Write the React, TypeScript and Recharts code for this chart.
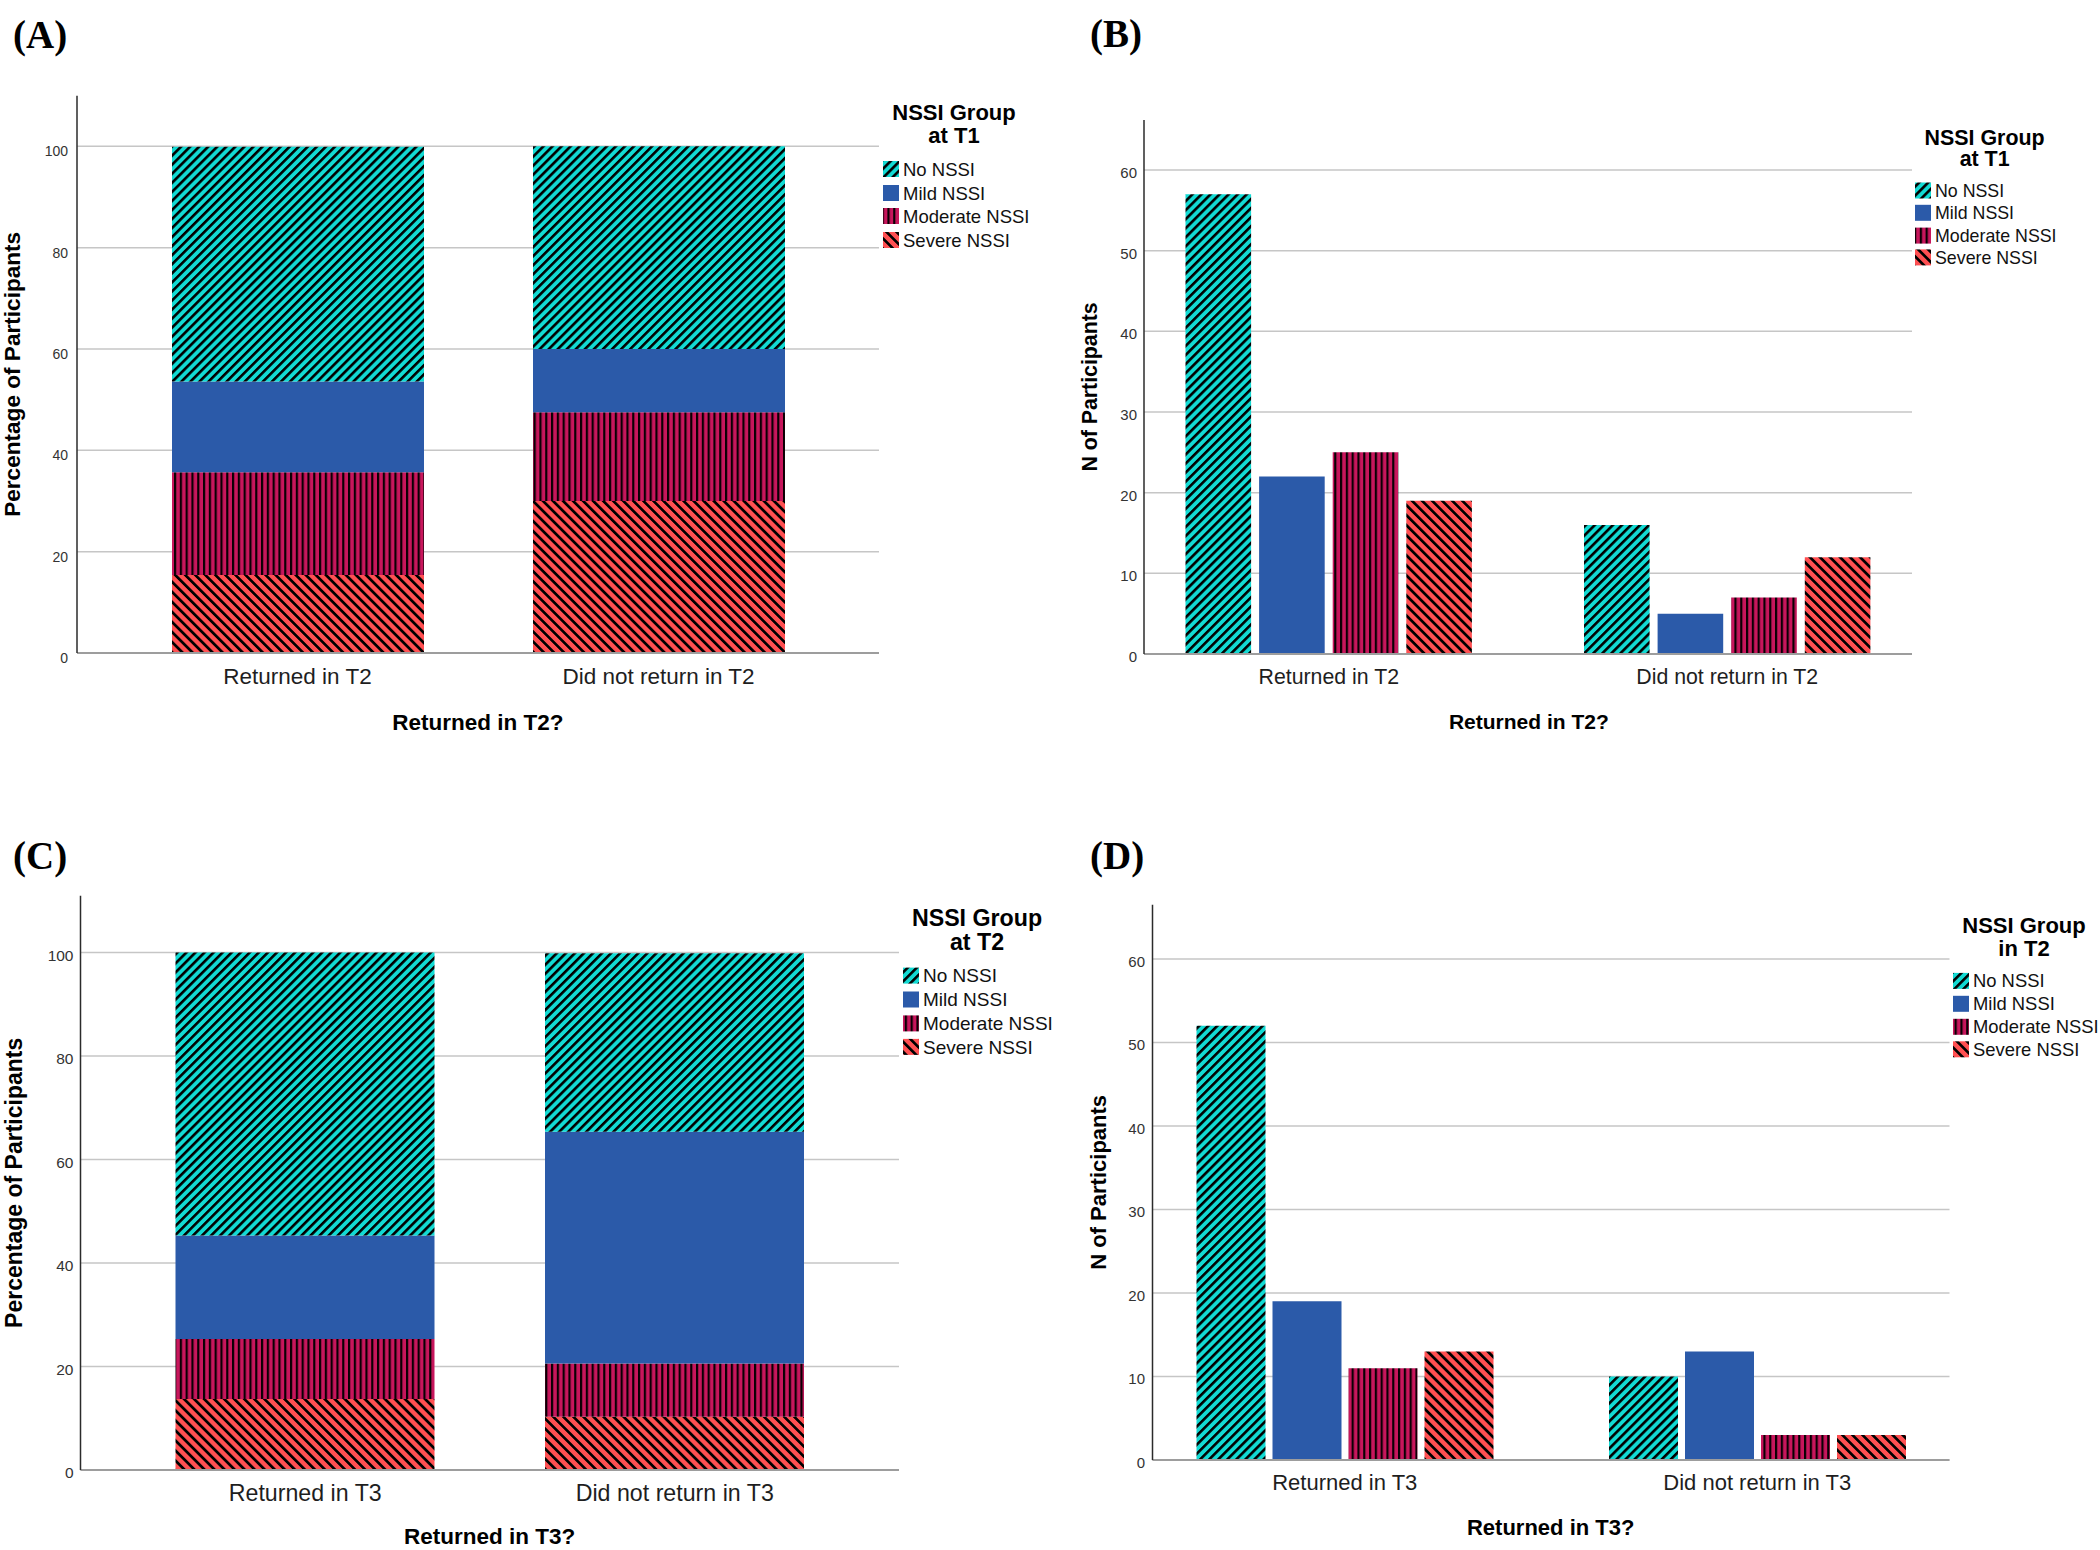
import React from "react";
import { BarChart, Bar, XAxis, YAxis, CartesianGrid } from "recharts";

// categories / groups
const groupNames = ["No NSSI", "Mild NSSI", "Moderate NSSI", "Severe NSSI"];
const groupKeys = ["none", "mild", "moderate", "severe"];
const t2Labels = ["Returned in T2", "Did not return in T2"];
const t3Labels = ["Returned in T3", "Did not return in T3"];
const pctTicks = [0, 20, 40, 60, 80, 100];
const countTicks = [0, 10, 20, 30, 40, 50, 60];

// (A) % of participants by NSSI group at T1
const aNone = [46.3, 40.0];
const aMild = [17.9, 12.5];
const aModerate = [20.3, 17.5];
const aSevere = [15.4, 30.0];

// (B) N of participants by NSSI group at T1
const bNone = [57, 16];
const bMild = [22, 5];
const bModerate = [25, 7];
const bSevere = [19, 12];

// (C) % of participants by NSSI group at T2
const cNone = [54.7, 34.5];
const cMild = [20.0, 44.8];
const cModerate = [11.6, 10.3];
const cSevere = [13.7, 10.3];

// (D) N of participants by NSSI group in T2
const dNone = [52, 10];
const dMild = [19, 13];
const dModerate = [11, 3];
const dSevere = [13, 3];

const TEAL = "#12dad3";
const BLUE = "#2b5aa9";
const CRIMSON = "#c8165c";
const CORAL = "#ff5052";
const SANS = "'Liberation Sans', Arial, sans-serif";
const SERIF = "'Liberation Serif', 'DejaVu Serif', serif";

type Row = { cat: string; none: number; mild: number; moderate: number; severe: number };

const makeRows = (cats: string[], none: number[], mild: number[], moderate: number[], severe: number[]): Row[] =>
  cats.map((cat, i) => ({ cat, none: none[i], mild: mild[i], moderate: moderate[i], severe: severe[i] }));

function patterns(prefix: string) {
  return (
    <defs>
      <pattern id={`${prefix}-none`} patternUnits="userSpaceOnUse" width={6.4} height={6.4} patternTransform="rotate(45)">
        <rect width={6.4} height={6.4} fill={TEAL} />
        <rect width={2.6} height={6.4} fill="#000" />
      </pattern>
      <pattern id={`${prefix}-moderate`} patternUnits="userSpaceOnUse" width={5.8} height={10}>
        <rect width={5.8} height={10} fill={CRIMSON} />
        <rect width={2.2} height={10} fill="#0a0004" />
      </pattern>
      <pattern id={`${prefix}-severe`} patternUnits="userSpaceOnUse" width={7.1} height={7.1} patternTransform="rotate(-45)">
        <rect width={7.1} height={7.1} fill={CORAL} />
        <rect width={2.7} height={7.1} fill="#000" />
      </pattern>
    </defs>
  );
}

const fillFor = (prefix: string, key: string) => (key === "mild" ? BLUE : `url(#${prefix}-${key})`);

type PanelCfg = {
  id: string;
  letter: string;
  letterX: number;
  letterY: number;
  data: Row[];
  stacked: boolean;
  yMax: number;
  ticks: number[];
  box: [number, number, number, number];
  plot: [number, number, number, number];
  pad: [number, number];
  barSize: number;
  barGap: number;
  tickFs: number;
  tickBase: number;
  yTickFs: number;
  yTickGap: number;
  yTickOff: number;
  yTitle: string;
  yTitleX: number;
  yTitleFs: number;
  xTitle: string;
  xTitleX: number;
  xTitleBase: number;
  xTitleFs: number;
  legTitle: [string, string];
  legX: number;
  legBase: [number, number];
  legFs: number;
  swX: number;
  rowsY: number[];
  itemFs: number;
};

const panels: PanelCfg[] = [
  {
    id: "a", letter: "(A)", letterX: 13, letterY: 48,
    data: makeRows(t2Labels, aNone, aMild, aModerate, aSevere), stacked: true,
    yMax: 110, ticks: pctTicks,
    box: [0, 0, 1050, 775], plot: [77, 95.7, 879, 653], pad: [40, 40], barSize: 252, barGap: 0,
    tickFs: 22.5, tickBase: 683.5, yTickFs: 14, yTickGap: 9, yTickOff: 5,
    yTitle: "Percentage of Participants", yTitleX: 19.5, yTitleFs: 22.6,
    xTitle: "Returned in T2?", xTitleX: 478, xTitleBase: 729.5, xTitleFs: 22.5,
    legTitle: ["NSSI Group", "at T1"], legX: 954, legBase: [120, 143], legFs: 22,
    swX: 883, rowsY: [169, 193, 216, 240], itemFs: 18.5,
  },
  {
    id: "b", letter: "(B)", letterX: 1090, letterY: 47,
    data: makeRows(t2Labels, bNone, bMild, bModerate, bSevere), stacked: false,
    yMax: 66.2, ticks: countTicks,
    box: [1050, 0, 1050, 775], plot: [1144, 120, 1912, 654], pad: [-14.5, -14.5], barSize: 65.6, barGap: 8,
    tickFs: 21.3, tickBase: 683.5, yTickFs: 15, yTickGap: 7, yTickOff: 2.5,
    yTitle: "N of Participants", yTitleX: 1097, yTitleFs: 21.3,
    xTitle: "Returned in T2?", xTitleX: 1528.8, xTitleBase: 728.5, xTitleFs: 21,
    legTitle: ["NSSI Group", "at T1"], legX: 1984.6, legBase: [145.3, 166.3], legFs: 21.4,
    swX: 1915, rowsY: [190.5, 212.8, 235.6, 257.4], itemFs: 17.8,
  },
  {
    id: "c", letter: "(C)", letterX: 13, letterY: 869,
    data: makeRows(t3Labels, cNone, cMild, cModerate, cSevere), stacked: true,
    yMax: 111, ticks: pctTicks,
    box: [0, 775, 1050, 775], plot: [80.5, 895.7, 899, 1470], pad: [40, 39.5], barSize: 259, barGap: 0,
    tickFs: 23.2, tickBase: 1501.4, yTickFs: 15.5, yTickGap: 7, yTickOff: 2.5,
    yTitle: "Percentage of Participants", yTitleX: 21.9, yTitleFs: 23,
    xTitle: "Returned in T3?", xTitleX: 489.6, xTitleBase: 1543.5, xTitleFs: 22.5,
    legTitle: ["NSSI Group", "at T2"], legX: 977, legBase: [926.2, 949.6], legFs: 23.2,
    swX: 903, rowsY: [975.6, 999.5, 1023.4, 1046.9], itemFs: 19,
  },
  {
    id: "d", letter: "(D)", letterX: 1090, letterY: 869,
    data: makeRows(t3Labels, dNone, dMild, dModerate, dSevere), stacked: false,
    yMax: 66.5, ticks: countTicks,
    box: [1050, 775, 1050, 775], plot: [1152.5, 904.7, 1949.5, 1460], pad: [-14, -14], barSize: 69, barGap: 7,
    tickFs: 22, tickBase: 1489.5, yTickFs: 15, yTickGap: 7.5, yTickOff: 2.5,
    yTitle: "N of Participants", yTitleX: 1105.8, yTitleFs: 22,
    xTitle: "Returned in T3?", xTitleX: 1550.7, xTitleBase: 1535, xTitleFs: 22,
    legTitle: ["NSSI Group", "in T2"], legX: 2024, legBase: [932.8, 955.8], legFs: 22,
    swX: 1953, rowsY: [980.9, 1003.8, 1026.8, 1049.3], itemFs: 18.4,
  },
];

function Panel({ cfg }: { cfg: PanelCfg }) {
  const [bx, by, bw, bh] = cfg.box;
  const [x0, y0, x1, y1] = cfg.plot;
  const yAxisW = 40;
  const xAxisH = 40;
  const margin = {
    left: x0 - bx - yAxisW,
    top: y0 - by,
    right: bx + bw - x1,
    bottom: by + bh - y1 - xAxisH,
  };

  const xTick = (p: any) => (
    <text x={p.x} y={cfg.tickBase - by} textAnchor="middle" fontFamily={SANS} fontSize={cfg.tickFs} fill="#1e1e1e">
      {p.payload.value}
    </text>
  );
  const yTick = (p: any) => (
    <text
      x={x0 - bx - cfg.yTickGap}
      y={p.y + cfg.yTickOff + 0.358 * cfg.yTickFs}
      textAnchor="end"
      fontFamily={SANS}
      fontSize={cfg.yTickFs}
      fill="#333"
    >
      {p.payload.value}
    </text>
  );

  // stacked panels draw from the bottom up
  const order = cfg.stacked ? [...groupKeys].reverse() : groupKeys;

  return (
    <div style={{ position: "absolute", left: bx, top: by, width: bw, height: bh }}>
      <BarChart width={bw} height={bh} data={cfg.data} margin={margin} barGap={cfg.barGap} barCategoryGap={0}>
        {patterns(cfg.id)}
        <CartesianGrid vertical={false} syncWithTicks stroke="#c6c6c6" strokeWidth={1.5} />
        <XAxis
          dataKey="cat"
          height={xAxisH}
          padding={{ left: cfg.pad[0], right: cfg.pad[1] }}
          tickSize={0}
          tickMargin={0}
          tickLine={false}
          interval={0}
          axisLine={{ stroke: "#9d9d9d", strokeWidth: 2 }}
          tick={xTick}
        />
        <YAxis
          type="number"
          width={yAxisW}
          domain={[0, cfg.yMax]}
          allowDataOverflow
          ticks={cfg.ticks}
          interval={0}
          tickSize={0}
          tickLine={false}
          axisLine={{ stroke: "#2b2b2b", strokeWidth: 1.5 }}
          tick={yTick}
        />
        {order.map((k) => (
          <Bar
            key={k}
            dataKey={k}
            stackId={cfg.stacked ? "s" : undefined}
            fill={fillFor(cfg.id, k)}
            barSize={cfg.barSize}
            isAnimationActive={false}
          />
        ))}
      </BarChart>
    </div>
  );
}

function Annotations() {
  return (
    <svg width={2100} height={1550} style={{ position: "absolute", left: 0, top: 0, pointerEvents: "none" }}>
      {patterns("leg")}
      {panels.map((cfg) => {
        const [, y0, , y1] = cfg.plot;
        const yc = (y0 + y1) / 2;
        return (
          <g key={cfg.id}>
            <text x={cfg.letterX} y={cfg.letterY} fontFamily={SERIF} fontWeight="bold" fontSize={39} fill="#000">
              {cfg.letter}
            </text>
            <text
              transform={`translate(${cfg.yTitleX},${yc}) rotate(-90)`}
              textAnchor="middle"
              fontFamily={SANS}
              fontWeight="bold"
              fontSize={cfg.yTitleFs}
              fill="#000"
            >
              {cfg.yTitle}
            </text>
            <text x={cfg.xTitleX} y={cfg.xTitleBase} textAnchor="middle" fontFamily={SANS} fontWeight="bold" fontSize={cfg.xTitleFs} fill="#000">
              {cfg.xTitle}
            </text>
            {cfg.legTitle.map((t, i) => (
              <text key={t} x={cfg.legX} y={cfg.legBase[i]} textAnchor="middle" fontFamily={SANS} fontWeight="bold" fontSize={cfg.legFs} fill="#000">
                {t}
              </text>
            ))}
            {groupKeys.map((k, i) => (
              <g key={k}>
                <rect x={cfg.swX} y={cfg.rowsY[i] - 8} width={16} height={16} fill={fillFor("leg", k)} />
                <text
                  x={cfg.swX + 20}
                  y={cfg.rowsY[i] + 0.358 * cfg.itemFs}
                  fontFamily={SANS}
                  fontSize={cfg.itemFs}
                  fill="#111"
                >
                  {groupNames[i]}
                </text>
              </g>
            ))}
          </g>
        );
      })}
    </svg>
  );
}

export default function App() {
  return (
    <div style={{ position: "absolute", left: 0, top: 0, width: 2100, height: 1550, background: "#fff", overflow: "hidden" }}>
      {panels.map((cfg) => (
        <Panel key={cfg.id} cfg={cfg} />
      ))}
      <Annotations />
    </div>
  );
}
